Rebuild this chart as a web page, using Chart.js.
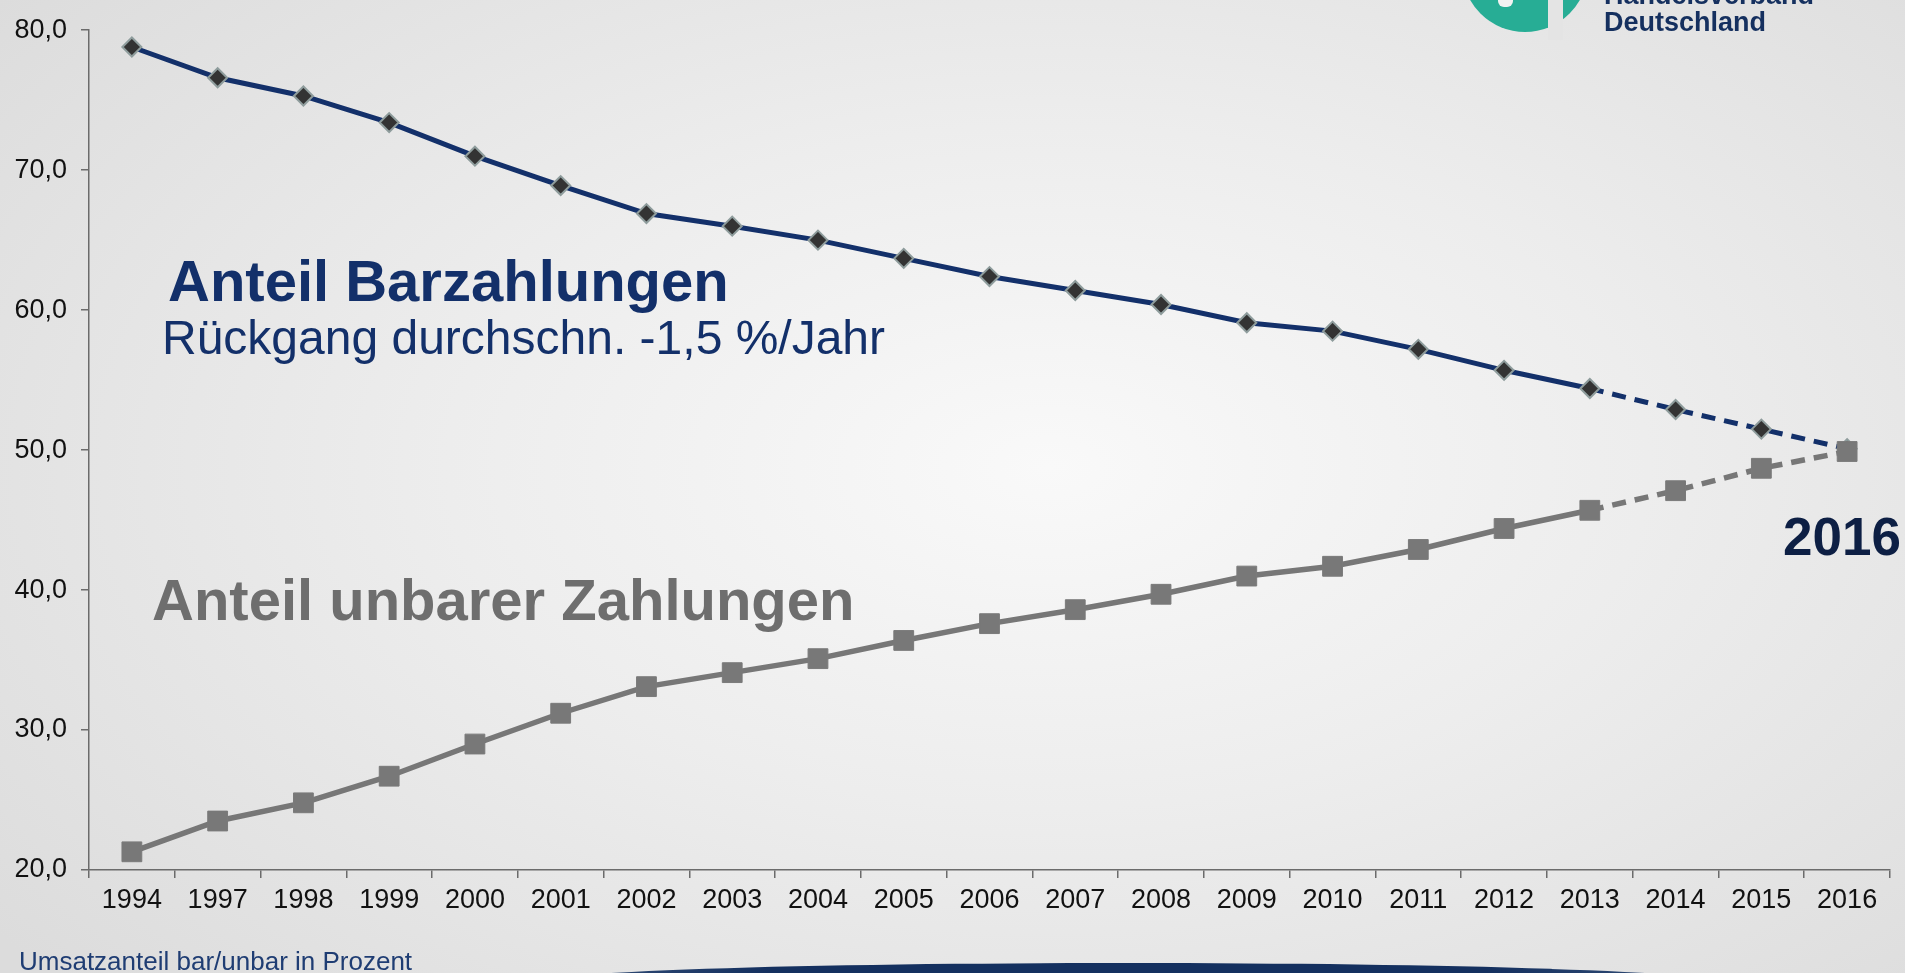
<!DOCTYPE html>
<html lang="de">
<head>
<meta charset="utf-8">
<title>Umsatzanteil bar/unbar in Prozent</title>
<script src="https://cdn.jsdelivr.net/npm/chart.js@4.4.1/dist/chart.umd.min.js"></script>
<style>
  html, body { margin: 0; padding: 0; }
  body {
    width: 1905px; height: 973px; overflow: hidden; position: relative;
    background: radial-gradient(ellipse 70% 78% at 55% 48%, #f9f9f9 0%, #ededed 45%, #dcdcdc 100%);
    font-family: "Liberation Sans", Arial, sans-serif;
  }
  #grafik { position: absolute; left: 0; top: 0; }
  .txt { position: absolute; white-space: nowrap; line-height: 1; }
  .logo-kreis { position: absolute; left: 1462px; top: -94px; width: 126px; height: 126px; border-radius: 50%; background: #27ad95; }
  .logo-spalt { position: absolute; left: 1548px; top: 0; width: 15px; height: 40px; background: #e4e4e4; }
  .logo-punkt { position: absolute; left: 1498px; top: -8px; width: 15px; height: 15px; border-radius: 6px; background: #f2f2f2; }
  .band {
    position: absolute; left: 531px; top: 963px; width: 1194px; height: 40px; border-radius: 50%;
    background: linear-gradient(90deg, #9fb0c6 0%, #2a4570 8%, #14305f 20%, #14305f 80%, #2a4570 92%, #9fb0c6 100%);
  }
</style>
</head>
<body>
<canvas id="grafik" width="1905" height="973"></canvas>

<div class="logo-kreis"></div>
<div class="logo-spalt"></div>
<div class="logo-punkt"></div>
<div class="txt" style="left:1604px; top:-18px; font-size:27px; font-weight:bold; color:#15305f;">Handelsverband</div>
<div class="txt" style="left:1604px; top:9px; font-size:27px; font-weight:bold; color:#15305f;">Deutschland</div>

<div class="txt" style="left:168px; top:252px; font-size:58px; font-weight:bold; color:#13306a;">Anteil Barzahlungen</div>
<div class="txt" style="left:162px; top:314px; font-size:48px; color:#13306a;">Rückgang durchschn. -1,5 %/Jahr</div>
<div class="txt" style="left:152px; top:571px; font-size:58px; font-weight:bold; color:#6e6e6e;">Anteil unbarer Zahlungen</div>
<div class="txt" style="left:1783px; top:510px; font-size:53px; font-weight:bold; color:#0d1f44;">2016</div>

<div class="band"></div>
<div class="txt" style="left:19px; top:948px; font-size:26px; color:#1f3d73;">Umsatzanteil bar/unbar in Prozent</div>

<script>
// Daten
const jahre = ['1994', '1997', '1998', '1999', '2000', '2001', '2002', '2003', '2004', '2005', '2006',
  '2007', '2008', '2009', '2010', '2011', '2012', '2013', '2014', '2015', '2016'];
const anteilBar = [78.8, 76.6, 75.3, 73.4, 71.0, 68.9, 66.9, 66.0, 65.0, 63.7, 62.4,
  61.4, 60.4, 59.1, 58.5, 57.2, 55.7, 54.4, 52.9, 51.5, 50.1];
const anteilUnbar = [21.3, 23.5, 24.8, 26.7, 29.0, 31.2, 33.1, 34.1, 35.1, 36.4, 37.6,
  38.6, 39.7, 41.0, 41.7, 42.9, 44.4, 45.7, 47.1, 48.7, 49.9];
const yWerte = [20, 30, 40, 50, 60, 70, 80];

// ab 2013 gestrichelt (Schätzung)
const startGestrichelt = jahre.indexOf('2013');
const strich = (ctx) => ctx.p0DataIndex >= startGestrichelt ? [14, 9] : undefined;

const schrift = '"Liberation Sans", Arial, sans-serif';

new Chart(document.getElementById('grafik'), {
  type: 'line',
  data: {
    labels: jahre,
    datasets: [{
      label: 'Anteil unbarer Zahlungen',
      data: anteilUnbar,
      order: 1,
      borderColor: '#777777',
      borderWidth: 5.5,
      pointStyle: 'rect',
      pointRadius: 14,
      pointBackgroundColor: '#787878',
      pointBorderColor: '#7a7a7a',
      pointBorderWidth: 1,
      tension: 0,
      segment: { borderDash: strich }
    }, {
      label: 'Anteil Barzahlungen',
      data: anteilBar,
      order: 2,
      borderColor: '#13306a',
      borderWidth: 5,
      pointStyle: 'rectRot',
      pointRadius: 9.5,
      pointBackgroundColor: '#333333',
      pointBorderColor: '#8e9c9c',
      pointBorderWidth: 2,
      tension: 0,
      segment: { borderDash: strich }
    }]
  },
  options: {
    responsive: false,
    animation: false,
    layout: { padding: { left: 0, right: 15, top: 30, bottom: 0 } },
    plugins: {
      legend: { display: false },
      tooltip: { enabled: false }
    },
    scales: {
      x: {
        offset: true,
        grid: { display: true, offset: true, drawOnChartArea: false, drawTicks: true, tickLength: 8, color: '#6b6b6b', lineWidth: 1.5 },
        border: { display: true, color: '#6b6b6b', width: 1.5 },
        ticks: { color: '#111111', font: { size: 27, family: schrift }, padding: 6, maxRotation: 0, autoSkip: false },
        afterFit: (s) => { s.height = 103; }
      },
      y: {
        min: 20,
        max: 80,
        grid: { drawOnChartArea: false, drawTicks: true, tickLength: 8, color: '#6b6b6b', lineWidth: 1.5 },
        border: { display: true, color: '#6b6b6b', width: 1.5 },
        afterBuildTicks: (s) => { s.ticks = yWerte.map(v => ({ value: v })); },
        ticks: {
          color: '#111111',
          font: { size: 27, family: schrift },
          padding: 14,
          callback: (v) => Number(v).toFixed(1).replace('.', ',')
        },
        afterFit: (s) => { s.width = 89; }
      }
    }
  }
});
</script>
</body>
</html>
